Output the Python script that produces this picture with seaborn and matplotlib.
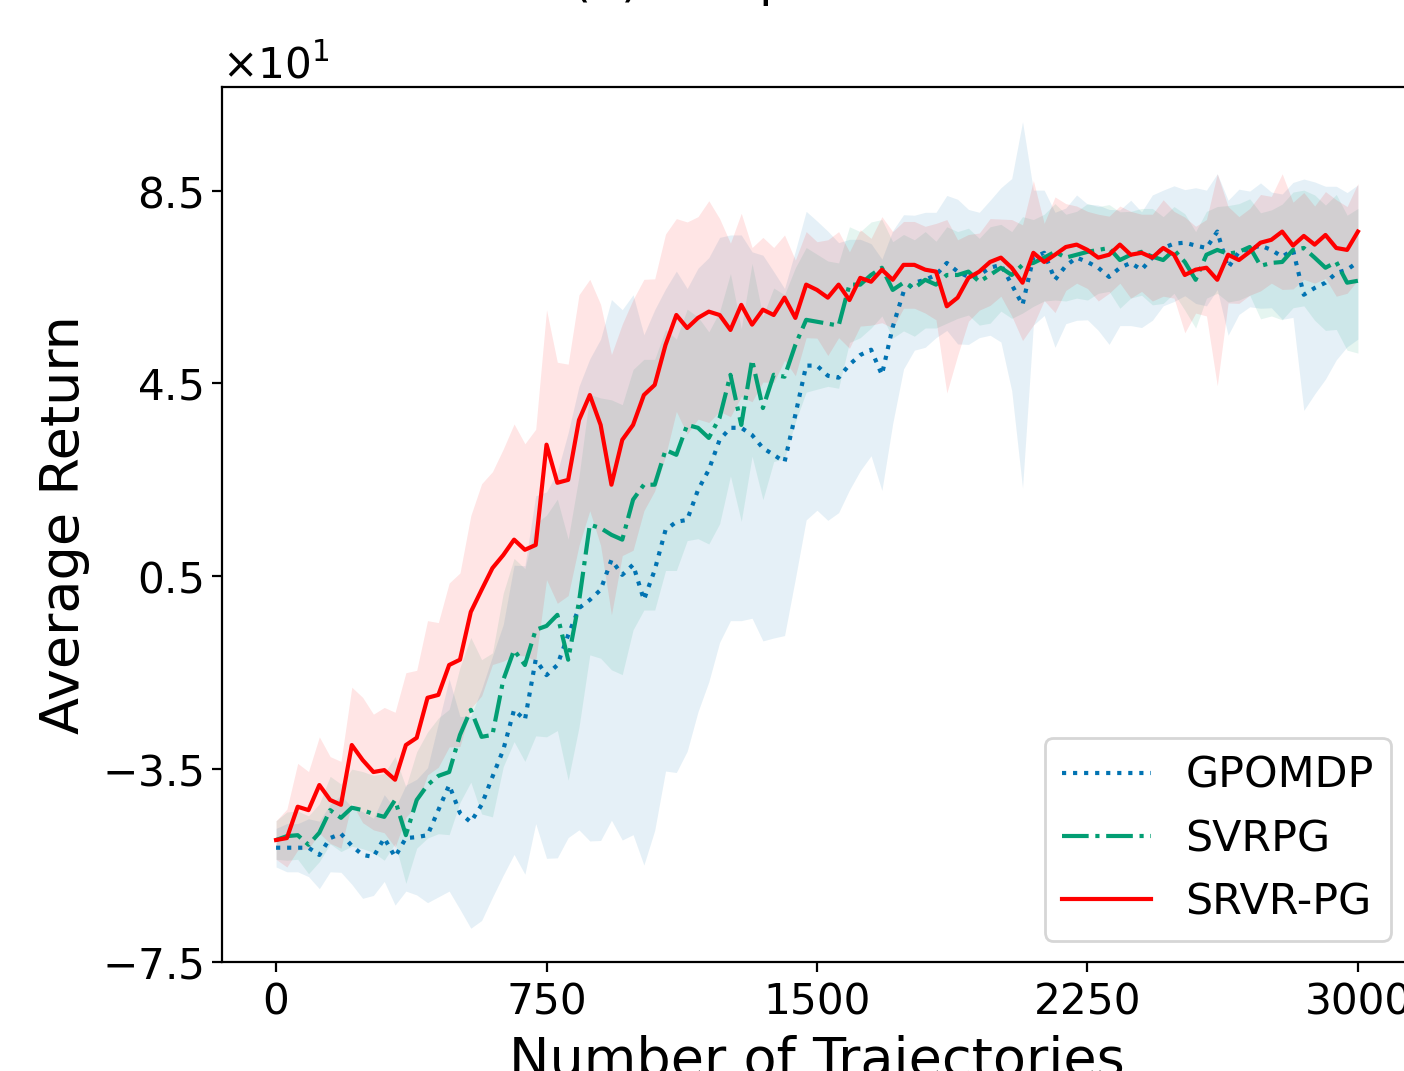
import numpy as np
import matplotlib
matplotlib.use("Agg")
import matplotlib.pyplot as plt
from matplotlib.ticker import ScalarFormatter
import seaborn as sns

# ---- data ----
trajectories = np.arange(0, 3001, 30)

gpomdp_mean = [
    -51.3, -51.3, -51.3, -51.3, -52.8, -49.3, -48.4, -50.9, -52.8, -53.2,
    -49.3, -53.2, -49.3, -49.1, -48.7, -43.5, -38.3, -44.1, -46.0, -42.4,
    -36.6, -31.0, -22.7, -24.8, -12.3, -15.5, -13.4, -7.2, -1.6, 0.1,
    2.2, 8.4, 5.3, 7.4, 0.1, 6.3, 14.6, 16.3, 16.7, 22.9,
    27.1, 33.3, 35.8, 35.8, 34.3, 31.6, 30.2, 28.7, 38.5, 48.7,
    48.7, 46.6, 46.2, 48.9, 50.9, 52.0, 46.8, 56.7, 64.0, 65.9,
    66.5, 67.5, 70.0, 68.2, 67.1, 67.5, 69.0, 69.6, 65.5, 61.3,
    71.1, 72.1, 66.5, 69.4, 71.1, 70.2, 69.0, 67.1, 69.0, 70.0,
    68.6, 71.1, 73.1, 74.0, 74.2, 73.6, 73.1, 76.5, 69.0, 72.3,
    72.9, 73.6, 72.7, 71.3, 72.7, 63.4, 64.8, 65.9, 67.9, 68.6,
    70.2,
]
gpomdp_std = [
    4, 5, 5, 6, 7, 7, 8, 8, 9, 8,
    9, 10, 11, 12, 14, 18, 22, 20, 22, 24,
    25, 26, 30, 32, 34, 38, 40, 42, 46, 50,
    52, 54, 55, 56, 55, 54, 50, 52, 48, 46,
    44, 42, 40, 40, 38, 40, 38, 36, 34, 32,
    30, 30, 28, 26, 24, 22, 24, 20, 16, 14,
    14, 13, 14, 15, 14, 13, 14, 16, 22, 38,
    14, 13, 14, 12, 13, 12, 13, 14, 12, 13,
    12, 13, 12, 12, 11, 12, 12, 12, 14, 13,
    12, 13, 12, 13, 14, 24, 22, 20, 18, 16,
    16,
]

svrpg_mean = [
    -49.7, -48.9, -48.7, -50.7, -48.2, -43.5, -45.1, -43.0, -43.5, -44.3,
    -44.9, -41.4, -48.7, -41.4, -38.3, -36.4, -35.6, -27.9, -22.7, -28.3,
    -27.9, -16.5, -10.3, -13.4, -6.1, -5.3, -3.0, -12.3, -0.3, 15.7,
    15.0, 13.6, 12.6, 20.9, 24.0, 24.0, 31.2, 30.2, 36.4, 35.8,
    33.7, 37.9, 46.8, 36.4, 49.9, 39.9, 46.8, 46.4, 53.0, 58.2,
    57.8, 57.4, 57.0, 65.5, 65.5, 67.5, 69.0, 64.4, 65.9, 64.8,
    66.5, 65.5, 67.5, 67.5, 68.2, 66.1, 67.5, 69.0, 67.5, 69.6,
    70.0, 71.1, 72.3, 71.1, 71.7, 72.3, 72.7, 73.1, 70.6, 71.7,
    72.3, 71.3, 70.6, 72.7, 70.2, 66.5, 71.7, 72.7, 71.9, 72.3,
    73.3, 69.4, 70.0, 70.2, 72.7, 73.1, 71.1, 69.0, 70.2, 65.9,
    66.3,
]
svrpg_std = [
    4, 5, 5, 6, 6, 7, 7, 8, 8, 8,
    9, 9, 10, 10, 11, 12, 13, 14, 15, 16,
    17, 18, 19, 20, 22, 23, 24, 25, 26, 27,
    27, 28, 28, 27, 26, 26, 25, 24, 24, 23,
    22, 22, 21, 20, 20, 19, 18, 17, 16, 15,
    14, 13, 13, 12, 11, 11, 10, 10, 10, 10,
    10, 9, 10, 9, 9, 9, 10, 9, 9, 10,
    9, 9, 10, 9, 9, 10, 9, 9, 10, 9,
    9, 10, 9, 9, 10, 10, 9, 9, 10, 10,
    10, 11, 11, 12, 12, 12, 13, 13, 14, 14,
    15,
]

srvrpg_mean = [
    -49.7, -49.3, -42.8, -43.5, -38.3, -41.4, -42.4, -30.0, -33.1, -35.6,
    -35.2, -37.2, -30.0, -28.5, -20.2, -19.6, -13.4, -12.3, -2.4, 2.2,
    6.7, 9.4, 12.6, 10.5, 11.5, 32.3, 24.4, 25.0, 37.4, 42.6,
    36.4, 24.0, 33.3, 36.4, 42.6, 44.7, 53.0, 59.2, 56.5, 58.6,
    59.9, 59.2, 56.1, 61.3, 57.2, 60.3, 59.2, 62.8, 58.6, 65.5,
    64.4, 62.8, 65.5, 62.3, 66.9, 66.1, 68.6, 66.5, 69.6, 69.6,
    68.6, 68.2, 61.0, 62.8, 66.9, 68.2, 70.2, 71.1, 69.0, 65.9,
    72.1, 70.2, 71.7, 73.3, 73.8, 72.7, 71.1, 71.7, 73.8, 71.7,
    72.1, 71.1, 73.1, 71.7, 67.5, 68.6, 69.0, 66.5, 71.7, 70.6,
    72.3, 74.2, 74.8, 76.5, 73.6, 75.6, 73.8, 75.8, 73.1, 72.7,
    76.5,
]
srvrpg_std = [
    4, 6, 9, 8, 10, 9, 9, 12, 13, 12,
    13, 14, 15, 14, 16, 15, 17, 18, 20, 22,
    20, 22, 24, 22, 24, 28, 25, 24, 26, 24,
    25, 27, 24, 26, 24, 22, 23, 20, 22, 21,
    23, 20, 18, 19, 16, 15, 14, 13, 12, 11,
    10, 12, 11, 10, 10, 9, 11, 10, 9, 9,
    9, 10, 18, 12, 9, 8, 9, 8, 10, 12,
    15, 8, 12, 9, 8, 8, 9, 8, 8, 9,
    8, 9, 10, 9, 12, 9, 10, 22, 10, 9,
    9, 10, 9, 12, 9, 9, 8, 9, 10, 9,
    10,
]

methods = ["GPOMDP", "SVRPG", "SRVR-PG"]
means = [gpomdp_mean, svrpg_mean, srvrpg_mean]
stds = [gpomdp_std, svrpg_std, srvrpg_std]

palette = sns.color_palette("colorblind")
colors = [palette[0], palette[2], "red"]
styles = [":", "-.", "-"]

# ---- plot ----
plt.rcParams["font.family"] = ["DejaVu Sans"]

fig = plt.figure(figsize=(7.02, 5.355), dpi=200)
ax = fig.add_axes([0.1581, 0.1018, 0.8476, 0.8170])

for name, m, s, c, ls in zip(methods, means, stds, colors, styles):
    m = np.array(m)
    s = np.array(s)
    ax.fill_between(trajectories, m - s, m + s, color=c, alpha=0.1, linewidth=0)
    sns.lineplot(x=trajectories, y=m, ax=ax, color=c, linestyle=ls,
                 linewidth=1.5, label=name)

ax.set_xlim(-150, 3150)
ax.set_ylim(-75, 106.5)
ax.set_xticks([0, 750, 1500, 2250, 3000])
ax.set_yticks([-75, -35, 5, 45, 85])

fmt = ScalarFormatter(useMathText=True)
fmt.set_powerlimits((0, 0))
ax.yaxis.set_major_formatter(fmt)
ax.yaxis.get_offset_text().set_fontsize(15.2)
ax.tick_params(labelsize=15.2)

ax.set_xlabel("Number of Trajectories", fontsize=19.5)
ax.set_ylabel("Average Return", fontsize=19.5)

ax.legend(loc="lower right", fontsize=15.4, handlelength=2.08)

# title sits mostly above the visible canvas
fig.text(572 / 1404, 1 + 4 / 1071, "(a) Cartpole", fontsize=17.6,
         ha="left", va="baseline")

fig.savefig("out.png", dpi=200)
